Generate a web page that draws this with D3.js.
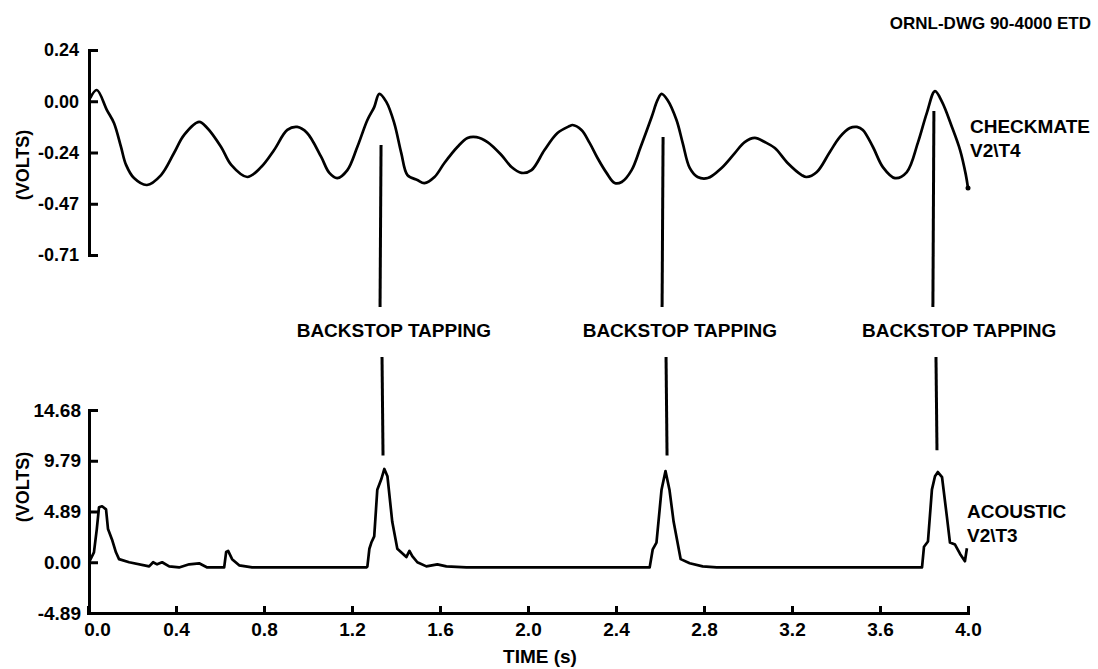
<!DOCTYPE html>
<html>
<head>
<meta charset="utf-8">
<script src="https://cdn.jsdelivr.net/npm/d3@7"></script>
<style>
  body { margin: 0; background: #fff; }
  svg { display: block; font-family: "Liberation Sans", Arial, Helvetica, sans-serif; font-weight: bold; }
  .axis path, .axis line { stroke: #000; stroke-width: 3; }
  .axis text { fill: #000; font-weight: bold; }
</style>
</head>
<body>
<svg></svg>
<script>
var width = 1098;
var height = 669;

// checkmate (top) trace: time in s, volts
var topTime = [0.01, 0.04, 0.086, 0.118, 0.150, 0.173, 0.209, 0.268, 0.332, 0.391, 0.437, 0.505, 0.542,
    0.605, 0.651, 0.724, 0.787, 0.846, 0.906, 0.951, 0.996, 1.060, 1.097, 1.133, 1.179, 1.224, 1.270,
    1.301, 1.324, 1.356, 1.392, 1.424, 1.452, 1.497, 1.529, 1.575, 1.620, 1.679, 1.725, 1.766, 1.816,
    1.879, 1.925, 1.970, 2.016, 2.075, 2.134, 2.189, 2.202, 2.243, 2.280, 2.316, 2.357, 2.394, 2.426,
    2.471, 2.512, 2.562, 2.589, 2.607, 2.634, 2.675, 2.703, 2.735, 2.771, 2.817, 2.880, 2.940, 2.985,
    3.031, 3.076, 3.122, 3.180, 3.244, 3.266, 3.313, 3.372, 3.417, 3.463, 3.495, 3.522, 3.568, 3.613,
    3.668, 3.722, 3.772, 3.813, 3.850, 3.882, 3.927, 3.964, 3.990, 4.0];
var topVolts = [0.015, 0.052, -0.041, -0.101, -0.212, -0.295, -0.356, -0.388, -0.342, -0.240, -0.156, -0.096, -0.124,
    -0.212, -0.295, -0.351, -0.305, -0.226, -0.133, -0.119, -0.147, -0.258, -0.332, -0.356, -0.319, -0.212, -0.087,
    -0.027, 0.034, -0.003, -0.101, -0.240, -0.342, -0.365, -0.379, -0.351, -0.286, -0.212, -0.170, -0.166, -0.189,
    -0.249, -0.305, -0.332, -0.319, -0.226, -0.147, -0.115, -0.110, -0.133, -0.193, -0.263, -0.332, -0.379, -0.374,
    -0.319, -0.212, -0.073, 0.006, 0.034, 0.006, -0.087, -0.193, -0.309, -0.351, -0.356, -0.309, -0.240, -0.189,
    -0.170, -0.189, -0.217, -0.286, -0.342, -0.351, -0.328, -0.235, -0.166, -0.124, -0.119, -0.133, -0.212, -0.305,
    -0.356, -0.328, -0.193, -0.054, 0.047, -0.003, -0.119, -0.226, -0.340, -0.402];

// acoustic (bottom) trace
var botTime = [0.005, 0.027, 0.040, 0.050, 0.064, 0.082, 0.091, 0.109, 0.127, 0.141, 0.187, 0.278, 0.296,
    0.314, 0.337, 0.369, 0.414, 0.460, 0.505, 0.542, 0.619, 0.628, 0.637, 0.655, 0.687, 0.746,
    1.265, 1.270, 1.279, 1.288, 1.301, 1.315, 1.333, 1.347, 1.361, 1.383, 1.406, 1.447, 1.461, 1.474,
    1.497, 1.538, 1.588, 1.629, 1.720,
    2.553, 2.567, 2.584, 2.607, 2.625, 2.643, 2.662, 2.694, 2.735, 2.794, 2.858,
    3.791, 3.800, 3.818, 3.836, 3.850, 3.863, 3.882, 3.904, 3.918, 3.941, 3.964, 3.986, 3.995];
var botVolts = [0.0, 0.96, 3.2, 5.3, 5.4, 5.1, 3.2, 2.2, 0.96, 0.3, 0.0, -0.4, 0.0,
    -0.2, 0.0, -0.4, -0.5, -0.2, -0.1, -0.5, -0.5, 1.0, 1.1, 0.3, -0.3, -0.5,
    -0.5, -0.4, 1.3, 1.9, 2.5, 7.0, 8.0, 9.0, 8.3, 3.9, 1.3, 0.5, 1.1, 0.6,
    0.0, -0.4, -0.2, -0.4, -0.5,
    -0.5, 1.25, 1.9, 7.0, 8.8, 7.0, 3.9, 0.3, -0.1, -0.4, -0.5,
    -0.5, 1.5, 2.0, 7.0, 8.3, 8.7, 8.2, 4.4, 1.9, 1.7, 0.8, 0.1, 1.35];

var xTicks = [0, 0.4, 0.8, 1.2, 1.6, 2.0, 2.4, 2.8, 3.2, 3.6, 4.0];
var topTicks = [0.2375, 0, -0.2375, -0.475, -0.7125];
var topTickLabels = ["0.24", "0.00", "-0.24", "-0.47", "-0.71"];
var botTicks = [14.682, 9.788, 4.894, 0, -4.894];
var botTickLabels = ["14.68", "9.79", "4.89", "0.00", "-4.89"];

// backstop tapping markers: upper line (time, start volts on top trace), lower line (time, end volts on bottom trace)
var tapUpperTime = [1.332, 2.614, 3.845];
var tapUpperVolts = [-0.203, -0.166, -0.045];
var tapLowerTime = [1.341, 2.632, 3.859];
var tapLowerVolts = [10.3, 10.3, 10.8];
var tapLabelTime = [1.39, 2.69, 3.96];

const svg = d3.select('svg')
    .attr('width', width)
    .attr('height', height);

svg.append("rect").attr("width", width).attr("height", height).attr("fill", "#fff");

var x = d3.scaleLinear().domain([0, 4]).range([88, 968]);
var yTop = d3.scaleLinear().domain([-0.7125, 0.2375]).range([255, 50]);
var yBot = d3.scaleLinear().domain([-4.894, 14.682]).range([613, 410]);

// axes
svg.append("g")
    .attr("class", "axis")
    .attr("transform", "translate(89,0)")
    .call(d3.axisLeft(yTop).tickValues(topTicks).tickSizeInner(-9).tickSizeOuter(0).tickPadding(10)
        .tickFormat((d, i) => topTickLabels[i]))
    .call(g => g.selectAll("text").attr("font-size", 18));

svg.append("g")
    .attr("class", "axis")
    .attr("transform", "translate(89,0)")
    .call(d3.axisLeft(yBot).tickValues(botTicks).tickSizeInner(-9).tickSizeOuter(0).tickPadding(8)
        .tickFormat((d, i) => botTickLabels[i]))
    .call(g => g.selectAll("text").attr("font-size", 19));

svg.append("g")
    .attr("class", "axis")
    .attr("transform", "translate(0," + yBot(-4.894) + ")")
    .call(d3.axisBottom(x).tickValues(xTicks).tickSizeInner(-7).tickSizeOuter(0).tickPadding(10)
        .tickFormat(d3.format(".1f")))
    .call(g => g.selectAll("text").attr("font-size", 19))
    .call(g => g.select(".tick text").attr("dx", 9));

svg.selectAll(".axis path").attr("stroke-linecap", "square");

// traces
var topLine = d3.line().x((d, i) => x(topTime[i])).y(d => yTop(d)).curve(d3.curveCatmullRom.alpha(0.5));
var botLine = d3.line().x((d, i) => x(botTime[i])).y(d => yBot(d));

svg.append("path")
    .attr("d", topLine(topVolts))
    .attr("fill", "none")
    .attr("stroke", "#000")
    .attr("stroke-width", 2.7)
    .attr("stroke-linejoin", "round");

svg.append("circle")
    .attr("cx", x(topTime[topTime.length - 1]))
    .attr("cy", yTop(topVolts[topVolts.length - 1]))
    .attr("r", 2.5);

svg.append("path")
    .attr("d", botLine(botVolts))
    .attr("fill", "none")
    .attr("stroke", "#000")
    .attr("stroke-width", 2.7)
    .attr("stroke-linejoin", "round");

// backstop tapping annotations
var labelY = 337;
for (var i = 0; i < tapUpperTime.length; i++) {
    svg.append("line")
        .attr("x1", x(tapUpperTime[i])).attr("y1", yTop(tapUpperVolts[i]))
        .attr("x2", x(tapUpperTime[i]) - 1).attr("y2", labelY - 30)
        .attr("stroke", "#000").attr("stroke-width", 3);
    svg.append("line")
        .attr("x1", x(tapLowerTime[i]) - 1).attr("y1", labelY + 20)
        .attr("x2", x(tapLowerTime[i])).attr("y2", yBot(tapLowerVolts[i]))
        .attr("stroke", "#000").attr("stroke-width", 3);
    svg.append("text")
        .attr("x", x(tapLabelTime[i]))
        .attr("y", labelY)
        .attr("text-anchor", "middle")
        .attr("font-size", 19)
        .text("BACKSTOP TAPPING");
}

// labels
svg.append("text")
    .attr("x", 1091).attr("y", 29)
    .attr("text-anchor", "end")
    .attr("font-size", 17)
    .text("ORNL-DWG 90-4000 ETD");

svg.append("text").attr("x", 970).attr("y", 133).attr("font-size", 19).text("CHECKMATE");
svg.append("text").attr("x", 970).attr("y", 157).attr("font-size", 19).text("V2\\T4");
svg.append("text").attr("x", 967).attr("y", 518).attr("font-size", 19).text("ACOUSTIC");
svg.append("text").attr("x", 967).attr("y", 542).attr("font-size", 19).text("V2\\T3");

svg.append("text")
    .attr("transform", "translate(23,165) rotate(-90)")
    .attr("text-anchor", "middle")
    .attr("dy", "0.35em")
    .attr("font-size", 18)
    .text("(VOLTS)");

svg.append("text")
    .attr("transform", "translate(23,487) rotate(-90)")
    .attr("text-anchor", "middle")
    .attr("dy", "0.35em")
    .attr("font-size", 18)
    .text("(VOLTS)");

svg.append("text")
    .attr("x", 540).attr("y", 663)
    .attr("text-anchor", "middle")
    .attr("font-size", 19)
    .text("TIME (s)");
</script>
</body>
</html>
